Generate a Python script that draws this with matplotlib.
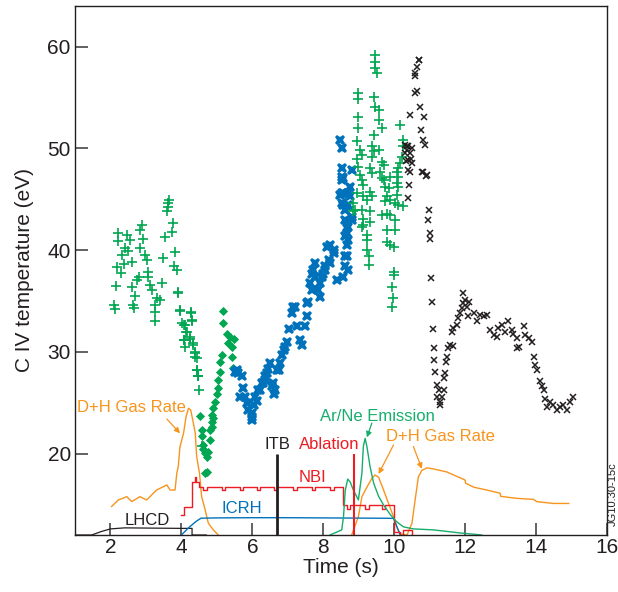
import matplotlib
matplotlib.use("Agg")
import matplotlib.pyplot as plt

plt.rcParams['font.family'] = ['Liberation Sans', 'DejaVu Sans']

# ---------------- data ----------------
# early green '+' (C IV temperature)
gp1_t = [3.63,3.61,3.65,3.59,2.88,2.83,2.22,2.46,2.55,2.20,2.91,3.77,3.73,3.54,2.41,2.50,2.83,2.32,2.97,3.02,
         3.49,3.82,2.60,2.39,2.18,2.30,3.07,3.80,3.87,3.07,2.74,2.79,2.15,3.44,2.62,3.12,3.16,3.90,2.69,3.30,
         3.40,3.26,2.64,2.11,2.13,2.67,3.26,3.26,3.96,4.27,4.01,4.10,4.29,4.15,4.24,4.06,4.34,4.10,4.37,4.39,
         4.43,4.48,3.91,3.96,4.26,4.29,4.06,4.13,4.06,4.24,4.34,4.39,4.43,4.43,4.48,4.50,4.57]
gp1_T = [44.6,44.2,44.9,43.8,42.5,42.0,41.7,41.5,41.0,40.9,41.1,42.65,41.8,41.3,40.2,39.9,40.2,39.5,39.5,39.0,
         39.2,39.8,38.8,38.6,38.3,37.8,37.9,38.45,38.0,37.4,37.1,37.4,36.5,36.75,36.35,36.6,36.1,35.9,35.5,35.3,
         35.1,34.6,34.6,34.6,34.2,34.3,33.9,33.0,34.1,33.9,32.8,32.6,33.1,32.0,31.5,31.2,30.85,30.5,30.0,29.5,
         28.2,27.6,35.8,34.0,33.8,33.0,32.6,32.0,31.2,31.3,30.7,29.9,29.4,28.2,27.6,26.3,20.7]

# green diamonds
gd_t = [5.17,5.18,5.28,5.37,5.47,5.32,5.42,5.42,5.14,5.09,5.45,5.09,5.04,5.04,5.00,4.95,4.90,4.86,4.88,4.86,
        4.86,4.81,4.53,4.57,4.57,4.60,4.62,4.81,4.67,4.71,4.76,4.71,4.67]
gd_T = [34.0,32.8,31.8,31.5,31.3,30.85,30.5,29.5,29.7,29.0,28.4,28.05,27.2,26.4,25.9,25.1,24.45,23.8,23.5,23.1,
        22.65,22.3,23.7,22.3,21.7,20.85,20.5,21.3,20.06,19.7,20.2,18.2,18.07]

# blue markers
bl_t = [5.50,5.60,5.56,5.70,5.75,5.65,5.84,5.89,5.98,6.08,6.22,6.31,6.41,6.55,6.60,6.69,6.78,6.83,6.92,6.97,
        7.02,7.11,7.16,7.25,7.35,7.39,7.49,7.54,7.58,7.63,7.67,7.72,7.77,7.86,7.91,7.96,8.05,8.15,8.10,8.19,
        8.29,8.38,8.57,8.62,8.66,8.71,8.66,8.66,8.62,8.52,8.71,8.48,8.52,8.57,8.48,8.52,8.52,8.52,8.76,8.76,
        8.80,8.57,8.80,8.66,8.71,8.29,8.19,8.05,8.62,5.80,5.98,5.98,6.17,6.27,6.36,6.50,6.59,6.64,6.74,6.88,
        7.21,7.54,7.67,7.77,7.91,8.00,8.62,8.71,8.62,8.57,8.52,8.66,8.80,8.71,6.05,6.12,6.35,6.45]
bl_T = [28.0,27.9,28.2,27.6,26.4,25.6,24.95,24.3,23.6,25.6,26.3,26.9,27.9,26.6,25.9,28.2,28.9,29.7,30.5,31.0,
        32.2,33.8,34.45,32.5,31.2,30.7,32.5,33.5,34.95,36.75,37.7,38.05,38.7,36.1,35.4,37.4,38.4,39.0,40.35,40.5,
        40.0,37.1,37.4,38.4,39.4,38.05,40.5,41.7,43.0,44.6,44.45,45.4,45.6,47.1,50.8,50.0,48.05,47.2,46.25,45.3,
        47.9,44.45,43.0,42.2,41.0,39.7,38.7,38.05,39.4,25.6,24.0,23.3,26.3,26.9,27.6,28.9,26.9,26.3,28.2,30.2,
        34.45,34.8,36.1,37.4,36.75,37.7,41.35,42.3,43.95,45.6,46.9,44.3,43.3,45.6,24.8,25.2,27.2,28.3]

# late green '+'
gp2_t = [9.46,9.46,9.46,9.51,8.99,8.99,9.42,9.46,9.56,8.99,9.56,9.65,10.17,8.99,9.42,8.94,10.26,9.37,9.42,9.56,
         9.04,9.09,8.94,9.37,9.65,9.70,10.21,10.17,10.12,9.32,9.37,8.99,9.04,9.60,9.65,9.70,9.89,10.07,10.12,9.09,
         9.13,9.75,9.84,10.07,8.94,9.32,9.37,9.13,9.23,9.79,9.89,9.75,10.07,10.03,10.12,10.26,8.85,8.90,9.09,9.32,
         9.13,9.32,9.65,9.79,9.89,10.03,9.13,9.09,9.79,10.03,9.23,9.23,9.79,9.89,9.98,9.23,9.28,9.28,9.98,9.98,
         9.93,9.96,9.93,10.26,10.12,8.85]
gp2_T = [59.2,58.5,57.9,57.4,55.4,54.9,55.1,54.1,53.8,53.1,52.8,52.0,52.3,52.0,51.3,50.7,50.8,50.2,49.7,49.85,
         49.85,49.4,49.0,49.2,48.7,48.4,49.2,48.55,48.05,48.05,47.6,48.2,47.4,47.7,47.1,46.9,47.2,47.7,47.2,46.9,
         46.4,46.25,46.1,46.6,45.6,45.75,45.3,45.3,44.9,45.3,44.9,44.8,45.4,44.6,44.45,44.3,44.6,43.95,43.95,43.8,
         43.1,42.8,43.5,43.6,43.5,43.0,42.5,42.3,42.0,42.0,41.5,41.0,40.8,40.5,40.35,40.0,39.4,38.55,37.9,37.6,
         36.4,35.3,34.45,50.2,46.25,43.8]

# black 'x'
bk_t = [10.71,10.64,10.59,10.59,10.64,10.59,10.73,10.45,10.85,10.75,10.81,10.87,10.31,10.36,10.40,10.45,10.31,10.50,10.45,10.40,
        10.78,10.90,10.43,10.40,10.97,10.94,11.00,11.01,11.03,11.06,11.08,11.11,11.13,11.16,11.20,11.25,11.22,11.28,11.30,11.39,
        11.34,11.44,11.41,11.48,11.47,11.53,11.58,11.67,11.63,11.67,11.77,11.81,11.86,11.91,11.95,12.00,12.05,12.12,11.95,12.07,
        12.24,12.33,12.42,12.52,12.61,12.71,12.80,12.89,12.94,13.03,13.13,13.22,13.32,13.36,13.46,13.51,13.46,13.65,13.69,13.79,
        13.88,13.93,13.98,14.04,14.10,14.16,14.21,14.26,14.30,14.40,14.49,14.59,14.68,14.77,14.87,14.96,15.04,10.69,10.82,10.92,
        10.40,10.36,10.50,10.33,10.48]
bk_T = [58.7,58.05,57.4,57.1,55.6,55.4,54.1,53.3,53.1,51.8,50.8,50.3,50.3,49.85,50.2,49.5,49.5,48.55,47.7,48.9,
        47.7,47.3,46.4,45.1,43.95,43.0,41.7,41.1,37.3,34.9,32.2,30.35,29.2,28.05,26.75,26.3,25.6,25.1,24.8,26.3,
        25.6,27.9,27.4,29.5,29.0,30.35,30.7,30.6,32.0,32.3,32.65,33.3,33.8,34.3,34.8,35.1,34.45,34.95,35.8,33.5,
        33.8,33.0,33.6,33.5,33.6,32.15,31.7,31.5,32.3,32.65,32.0,33.0,32.15,31.8,31.35,30.5,30.35,32.5,31.7,31.35,
        31.0,29.5,28.7,28.2,27.1,26.6,26.3,25.4,24.6,25.1,24.8,24.3,24.6,24.8,24.3,25.1,25.6,58.7,47.7,47.4,
        47.9,50.2,50.0,48.8,49.0]

# signal traces (plotted in temperature-axis units)
gas1_t = [2.03,2.22,2.46,2.60,2.83,3.02,3.30,3.59,3.68,3.82,3.87,3.91,3.96,4.06,4.13,4.20,4.26,4.32,4.39,4.43,
          4.51,4.57,4.67,4.76,4.90,5.04]
gas1_v = [14.8,15.44,15.77,15.28,15.77,15.44,16.42,16.92,16.42,16.42,18.07,18.72,20.68,22.0,23.63,24.45,24.3,23.3,22.0,19.7,
          18.07,15.77,14.46,13.15,12.5,12.0]

gas2_t = [8.80,8.99,9.09,9.23,9.37,9.46,9.56,9.70,9.84,9.98,10.07,10.17,10.36,10.50,10.59,10.68,10.78,10.92,11.10,11.48,
          12.00,12.01,12.24,12.61,12.99,13.00,13.46,13.93,14.02,14.49,14.92]
gas2_v = [12.0,13.8,15.77,16.7,17.56,17.9,17.67,16.42,15.1,13.8,12.8,12.1,12.0,13.15,15.44,17.7,18.35,18.6,18.5,18.2,
          17.4,17.1,16.7,16.42,16.1,15.8,15.6,15.5,15.28,15.1,15.1]

arne_t = [8.19,8.52,8.57,8.62,8.69,8.76,8.85,8.99,9.09,9.13,9.18,9.23,9.32,9.42,9.56,9.70,9.89,10.07,10.26,10.54,
          11.11,11.86,12.47]
arne_v = [12.0,12.5,13.8,16.4,17.5,17.2,16.4,15.44,18.1,20.7,21.5,20.7,18.7,17.1,15.8,14.95,14.0,13.3,12.8,12.6,
          12.5,12.2,12.0]

nbi_t = [4.00,4.07,4.30,4.37,4.42,4.50,4.62,4.71,5.14,5.23,5.64,5.73,6.12,6.22,6.60,6.69,7.16,7.25,7.67,7.77,
         8.19,8.29,8.55,8.66,8.76,9.18,9.28,9.65,9.75,9.98,10.15,10.25,10.50]
nbi_v = [13.97,14.8,17.2,17.7,17.2,16.75,16.4,16.75,16.4,16.75,16.4,16.75,16.4,16.75,16.4,16.75,16.4,16.75,16.4,16.75,
         16.4,16.75,14.95,14.6,14.95,14.6,14.95,14.6,14.95,12.3,12.0,12.5,12.0]

icrh_t = [4.00,4.20,4.40,4.55,5.00,6.00,7.00,8.00,9.00,9.98,10.17]
icrh_v = [12.0,12.7,13.3,13.65,13.68,13.7,13.7,13.68,13.66,13.64,12.0]

lhcd_t = [1.00,1.47,1.75,2.00,2.40,4.00,4.30,4.30,4.70]
lhcd_v = [12.0,12.0,12.35,12.6,12.7,12.65,12.65,12.0,12.0]

itb_t = 6.69
ablation_t = 8.87
event_top = 20.0

xticks = [2, 4, 6, 8, 10, 12, 14, 16]
yticks = [20, 30, 40, 50, 60]

# ---------------- colours ----------------
ORANGE = '#F7941D'
GREEN = '#00A651'
TEAL = '#16AE6C'
BLUE = '#0072BC'
RED = '#ED1C24'
BLACK = '#231F20'

fig = plt.figure(figsize=(6.18, 5.92), dpi=100)
ax = fig.add_axes([0.1214, 0.0963, 0.8608, 0.8936])

# traces
ax.plot(lhcd_t, lhcd_v, color=BLACK, lw=0.9)
ax.plot(gas1_t, gas1_v, color=ORANGE, lw=1.0)
ax.plot(gas2_t, gas2_v, color=ORANGE, lw=1.0)
ax.plot(icrh_t, icrh_v, color=BLUE, lw=1.0)
ax.plot(nbi_t, nbi_v, color=RED, lw=1.0, drawstyle='steps-post')
ax.plot(arne_t, arne_v, color=TEAL, lw=1.0)
ax.vlines(itb_t, 12, event_top, color=BLACK, lw=2.0)
ax.vlines(ablation_t, 12, event_top, color=RED, lw=1.5)

# scatter data
ax.plot(gp1_t, gp1_T, ls='none', marker='+', ms=6.5, mew=1.2, color=GREEN)
ax.plot(gd_t, gd_T, ls='none', marker='D', ms=4.5, mew=0.6, color=GREEN)
ax.plot(bl_t, bl_T, ls='none', marker='X', ms=7.3, mew=0, color=BLUE)
ax.plot(gp2_t, gp2_T, ls='none', marker='+', ms=6.5, mew=1.2, color=GREEN)
ax.plot(bk_t, bk_T, ls='none', marker='x', ms=4.8, mew=1.1, color=BLACK)

# annotations
fs = 12
ap = lambda c: dict(arrowstyle='-|>', color=c, lw=0.9, mutation_scale=8, shrinkA=0, shrinkB=0)
ax.text(2.58, 24.5, 'D+H Gas Rate', color=ORANGE, fontsize=fs, ha='center', va='center')
ax.annotate('', xy=(3.96, 22.0), xytext=(3.59, 23.4), arrowprops=ap(ORANGE))
ax.text(9.53, 23.6, 'Ar/Ne Emission', color=TEAL, fontsize=fs, ha='center', va='center')
ax.annotate('', xy=(9.23, 21.6), xytext=(9.37, 23.0), arrowprops=ap(TEAL))
ax.text(11.30, 21.7, 'D+H Gas Rate', color=ORANGE, fontsize=fs, ha='center', va='center')
ax.annotate('', xy=(9.56, 18.0), xytext=(9.98, 20.85), arrowprops=ap(ORANGE))
ax.annotate('', xy=(10.78, 18.5), xytext=(10.54, 20.7), arrowprops=ap(ORANGE))
ax.text(8.16, 20.85, 'Ablation', color=RED, fontsize=fs, ha='center', va='center')
ax.text(7.70, 17.7, 'NBI', color=RED, fontsize=fs, ha='center', va='center')
ax.text(6.70, 20.85, 'ITB', color=BLACK, fontsize=fs, ha='center', va='center')
ax.text(5.69, 14.6, 'ICRH', color=BLUE, fontsize=fs, ha='center', va='center')
ax.text(3.03, 13.4, 'LHCD', color=BLACK, fontsize=fs, ha='center', va='center')

ax.set_xlim(1, 16)
ax.set_ylim(12, 64)
ax.set_xticks(xticks)
ax.set_yticks(yticks)
ax.tick_params(axis='both', direction='in', length=9, width=1.3, colors='#555555',
               labelcolor='#231F20', labelsize=15)
ax.tick_params(axis='x', pad=2)
ax.tick_params(axis='y', pad=3)
for s in ax.spines.values():
    s.set_color('#231F20')
    s.set_linewidth(1.0)
ax.set_xlabel('Time (s)', fontsize=15, color='#231F20', labelpad=1)
ax.set_ylabel('C IV temperature (eV)', fontsize=15, color='#231F20', labelpad=10)

fig.text(0.991, 0.165, 'JG10.30-15c', rotation=90, fontsize=8, ha='center', va='center', color='#231F20')

fig.savefig('out.png', dpi=100)
